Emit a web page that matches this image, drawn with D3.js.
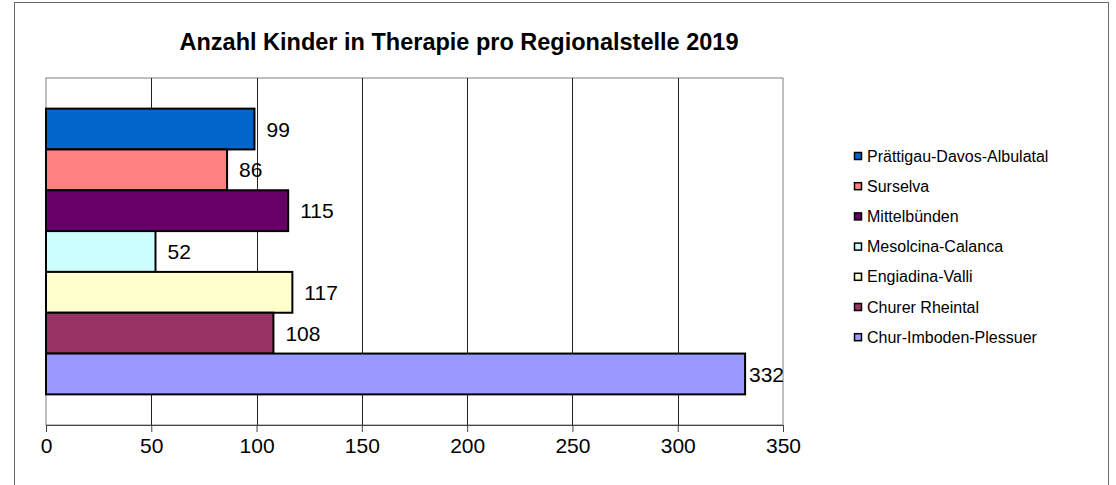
<!DOCTYPE html>
<html>
<head>
<meta charset="utf-8">
<script src="https://cdn.jsdelivr.net/npm/d3@7"></script>
<style>
  body { margin: 0; background: #fff; }
  svg { display: block; font-family: "Liberation Sans", Arial, sans-serif; }
</style>
</head>
<body>
<svg width="1116" height="485"></svg>
<script>
const regions = ["Prättigau-Davos-Albulatal", "Surselva", "Mittelbünden", "Mesolcina-Calanca",
  "Engiadina-Valli", "Churer Rheintal", "Chur-Imboden-Plessuer"];
const kinder = [99, 86, 115, 52, 117, 108, 332];
const ticks = [0, 50, 100, 150, 200, 250, 300, 350];
const colors = ["#0066cc", "#ff8080", "#660066", "#ccffff", "#ffffcc", "#993366", "#9999ff"];
const title = "Anzahl Kinder in Therapie pro Regionalstelle 2019";

const svg = d3.select("svg");
const plot = ({top: 78, right: 783, bottom: 425, left: 46});

const x = d3.scaleLinear()
    .domain([0, 350])
    .range([plot.left, plot.right]);
const y = d3.scaleBand()
    .domain(regions)
    .range([plot.top, plot.bottom])
    .paddingInner(0)
    .paddingOuter(0.75);
const color = d3.scaleOrdinal(regions, colors);

// chart border (bottom edge is off screen in the original)
svg.append("rect")
    .attr("x", 14.5).attr("y", 2.5)
    .attr("width", 1094).attr("height", 520)
    .attr("fill", "none")
    .attr("stroke", "#6b6b6b");

// title
svg.append("text")
    .attr("x", 459).attr("y", 50)
    .attr("text-anchor", "middle")
    .attr("font-size", 23.5)
    .attr("font-weight", "bold")
    .text(title);

// plot area frame
svg.append("rect")
    .attr("x", plot.left).attr("y", plot.top)
    .attr("width", plot.right - plot.left).attr("height", plot.bottom - plot.top)
    .attr("fill", "none")
    .attr("stroke", "#808080");

// vertical gridlines
svg.append("g")
  .selectAll("line")
  .data(ticks.slice(1, -1))
  .join("line")
    .attr("x1", d => Math.round(x(d)) + 0.5)
    .attr("x2", d => Math.round(x(d)) + 0.5)
    .attr("y1", plot.top)
    .attr("y2", plot.bottom)
    .attr("stroke", "#222");

// x axis
const xAxis = d3.axisBottom(x)
    .tickValues(ticks)
    .tickSizeInner(7)
    .tickSizeOuter(0)
    .tickPadding(6);
const gx = svg.append("g")
    .attr("transform", `translate(0,${plot.bottom})`)
    .call(xAxis);
gx.select(".domain").attr("stroke", "#444");
gx.selectAll(".tick line").attr("stroke", "#444");
gx.selectAll(".tick text")
    .attr("font-size", 21)
    .attr("font-family", "Liberation Sans, Arial, sans-serif")
    .attr("fill", "#000");

// bars
svg.append("g")
  .selectAll("rect")
  .data(regions)
  .join("rect")
    .attr("x", x(0))
    .attr("y", d => y(d))
    .attr("width", (d, i) => x(kinder[i]) - x(0))
    .attr("height", y.bandwidth())
    .attr("fill", d => color(d))
    .attr("stroke", "#000")
    .attr("stroke-width", 2);

// value labels, pushed back inside the plot when they would overflow
svg.append("g")
  .selectAll("text")
  .data(regions)
  .join("text")
    .attr("y", d => y(d) + y.bandwidth() / 2)
    .attr("dy", "0.36em")
    .attr("font-size", 21)
    .text((d, i) => kinder[i])
    .each(function(d, i) {
      const w = this.getComputedTextLength();
      const lx = Math.min(x(kinder[i]) + 12, plot.right + 1 - w);
      d3.select(this).attr("x", lx);
    });

// legend
const legend = svg.append("g")
    .attr("transform", "translate(854,156)");
const item = legend.selectAll("g")
  .data(regions)
  .join("g")
    .attr("transform", (d, i) => `translate(0,${i * 30.2})`);
item.append("rect")
    .attr("x", 0.5).attr("y", -3.5)
    .attr("width", 7).attr("height", 7)
    .attr("fill", d => color(d))
    .attr("stroke", "#000")
    .attr("stroke-width", 1.5);
item.append("text")
    .attr("x", 13)
    .attr("dy", "0.35em")
    .attr("font-size", 16)
    .text(d => d);
</script>
</body>
</html>
